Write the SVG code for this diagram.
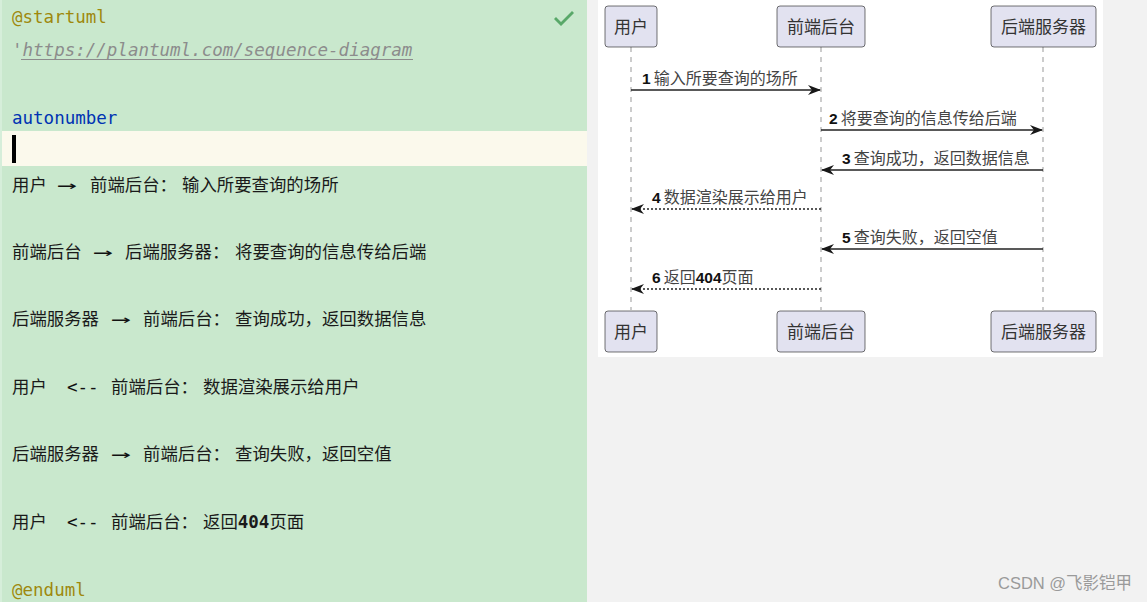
<svg xmlns="http://www.w3.org/2000/svg" width="1147" height="602" viewBox="0 0 1147 602">
<defs>
<style>
.mono{font-family:"DejaVu Sans Mono","Liberation Mono",monospace;font-size:17.5px}
.cjk{font-family:"Noto Sans CJK SC","DejaVu Sans",sans-serif;font-size:17.4px;fill:#1a1a1a}
.kw{fill:#9e880d}
.code{fill:#111}
.pbox{fill:#e2e2f0;stroke:#181818;stroke-width:0.6}
.pname{font-family:"Noto Sans CJK SC","Liberation Sans",sans-serif;font-size:17px;fill:#333;text-anchor:middle}
.life{stroke:#999;stroke-width:1;stroke-dasharray:5,5}
.msg{stroke:#222;stroke-width:1.3;fill:none}
.dash{stroke-dasharray:2,2}
.lbl{font-family:"Noto Sans CJK SC","Liberation Sans",sans-serif;font-size:16px;fill:#444}
.num{font-family:"Liberation Sans",sans-serif;font-weight:bold;font-size:15.5px;fill:#111}
</style>
<marker id="ah" viewBox="0 0 13 10" refX="12" refY="5" markerWidth="13" markerHeight="10" markerUnits="userSpaceOnUse" orient="auto">
<path d="M0,0 L13,5 L0,10 L4,5 Z" fill="#181818"/>
</marker>
</defs>
<rect x="0" y="0" width="1147" height="602" fill="#f2f2f2"/>
<g id="editor">
<rect x="0" y="0" width="587" height="602" fill="#c9e8cd"/>
<rect x="0" y="0" width="2" height="602" fill="#d6eeda"/>
<rect x="2" y="131" width="585" height="35" fill="#fbf9ec"/>
<rect x="12" y="135" width="4" height="28" fill="#000"/>
<path d="M556,17 L561,22 L572,11 L574,13 L561,26 L554,19 Z" fill="#59a869"/>
<text class="mono kw" x="12" y="23">@startuml</text>
<text class="mono" x="12" y="56" fill="#8c8c8c" font-style="italic">'https://plantuml.com/sequence-diagram</text>
<line x1="21" y1="59.5" x2="413" y2="59.5" stroke="#8c8c8c" stroke-width="1"/>
<text class="mono" x="12" y="124" fill="#0033b3">autonumber</text>

<text class="cjk" x="12" y="191">用户</text>
<text class="mono code" x="57" y="191" textLength="20" lengthAdjust="spacingAndGlyphs">→</text>
<text class="cjk" x="90" y="191">前端后台：</text>
<text class="cjk" x="182" y="191">输入所要查询的场所</text>

<text class="cjk" x="12" y="258">前端后台</text>
<text class="mono code" x="93" y="258" textLength="20" lengthAdjust="spacingAndGlyphs">→</text>
<text class="cjk" x="125" y="258">后端服务器：</text>
<text class="cjk" x="235" y="258">将要查询的信息传给后端</text>

<text class="cjk" x="12" y="325">后端服务器</text>
<text class="mono code" x="111" y="325" textLength="20" lengthAdjust="spacingAndGlyphs">→</text>
<text class="cjk" x="143" y="325">前端后台：</text>
<text class="cjk" x="235" y="325">查询成功，返回数据信息</text>

<text class="cjk" x="12" y="393">用户</text>
<text class="mono code" x="67" y="393">&lt;--</text>
<text class="cjk" x="111" y="393">前端后台：</text>
<text class="cjk" x="203" y="393">数据渲染展示给用户</text>

<text class="cjk" x="12" y="460">后端服务器</text>
<text class="mono code" x="111" y="460" textLength="20" lengthAdjust="spacingAndGlyphs">→</text>
<text class="cjk" x="143" y="460">前端后台：</text>
<text class="cjk" x="235" y="460">查询失败，返回空值</text>

<text class="cjk" x="12" y="528">用户</text>
<text class="mono code" x="67" y="528">&lt;--</text>
<text class="cjk" x="111" y="528">前端后台：</text>
<text class="cjk" x="203" y="528">返回<tspan class="mono" font-weight="bold">404</tspan>页面</text>

<text class="mono kw" x="12" y="596">@enduml</text>
</g>

<rect x="598" y="0" width="505" height="357" fill="#ffffff"/>

<g id="lifelines">
<line class="life" x1="631" y1="47" x2="631" y2="310"/>
<line class="life" x1="821" y1="47" x2="821" y2="310"/>
<line class="life" x1="1043" y1="47" x2="1043" y2="310"/>
</g>

<g id="p-user">
<rect class="pbox" x="605" y="6" width="52" height="41" rx="3"/>
<text class="pname" x="631" y="33">用户</text>
<rect class="pbox" x="605" y="311" width="52" height="41" rx="3"/>
<text class="pname" x="631" y="338">用户</text>
</g>
<g id="p-front">
<rect class="pbox" x="777" y="6" width="88" height="41" rx="3"/>
<text class="pname" x="821" y="33">前端后台</text>
<rect class="pbox" x="777" y="311" width="88" height="41" rx="3"/>
<text class="pname" x="821" y="338">前端后台</text>
</g>
<g id="p-back">
<rect class="pbox" x="991" y="6" width="105" height="41" rx="3"/>
<text class="pname" x="1043.5" y="33">后端服务器</text>
<rect class="pbox" x="991" y="311" width="105" height="41" rx="3"/>
<text class="pname" x="1043.5" y="338">后端服务器</text>
</g>

<g id="connectors">
<line class="msg" x1="631" y1="90" x2="820" y2="90" marker-end="url(#ah)"/>
<text x="642" y="84"><tspan class="num">1</tspan><tspan class="lbl" dx="3">输入所要查询的场所</tspan></text>

<line class="msg" x1="821" y1="130" x2="1042" y2="130" marker-end="url(#ah)"/>
<text x="829" y="124"><tspan class="num">2</tspan><tspan class="lbl" dx="3">将要查询的信息传给后端</tspan></text>

<line class="msg" x1="1043" y1="170" x2="822" y2="170" marker-end="url(#ah)"/>
<text x="842" y="164"><tspan class="num">3</tspan><tspan class="lbl" dx="3">查询成功，返回数据信息</tspan></text>

<line class="msg dash" x1="821" y1="209" x2="632" y2="209" marker-end="url(#ah)"/>
<text x="652" y="203"><tspan class="num">4</tspan><tspan class="lbl" dx="3">数据渲染展示给用户</tspan></text>

<line class="msg" x1="1043" y1="249" x2="822" y2="249" marker-end="url(#ah)"/>
<text x="842" y="243"><tspan class="num">5</tspan><tspan class="lbl" dx="3">查询失败，返回空值</tspan></text>

<line class="msg dash" x1="821" y1="289" x2="632" y2="289" marker-end="url(#ah)"/>
<text x="652" y="283"><tspan class="num">6</tspan><tspan class="lbl" dx="3">返回</tspan><tspan class="num" font-weight="bold" font-size="16px">404</tspan><tspan class="lbl">页面</tspan></text>
</g>

<text x="998" y="589" font-family="'Liberation Sans','Noto Sans CJK SC',sans-serif" font-size="16.5" fill="#9a9a9a">CSDN @飞影铠甲</text>
</svg>
